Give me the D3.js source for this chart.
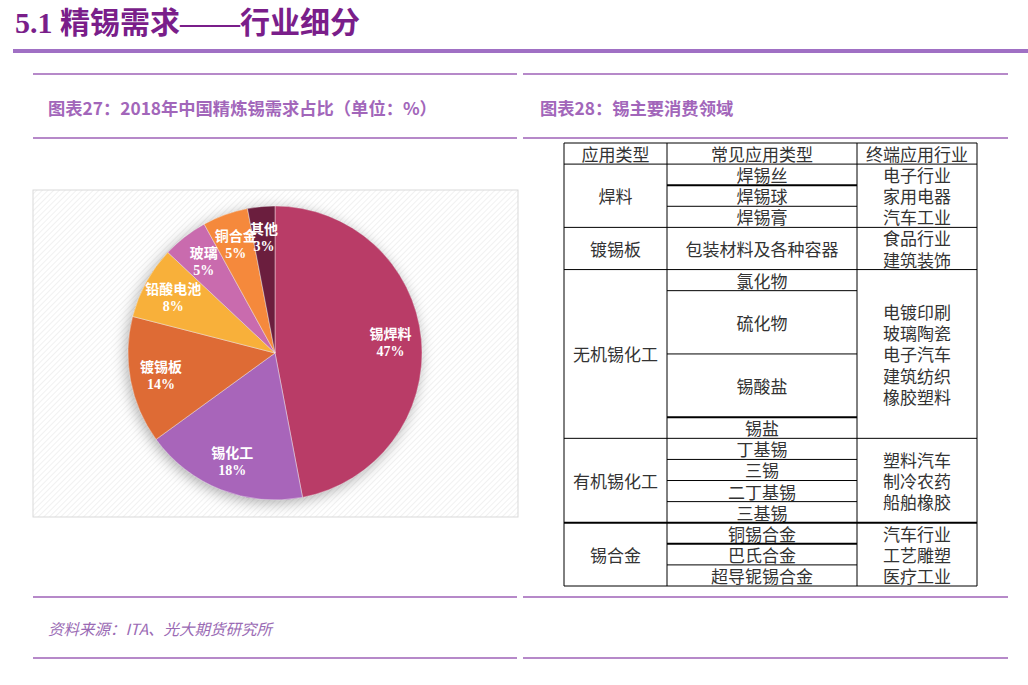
<!DOCTYPE html>
<html><head><meta charset="utf-8">
<script src="https://cdn.jsdelivr.net/npm/d3@7"></script>
<style>
html,body{margin:0;padding:0;background:#fff;}
svg{display:block;}
</style></head>
<body>
<svg id="c" width="1028" height="685"></svg>
<script>
// ---------- data ----------
const pieCategories = ["锡焊料","锡化工","镀锡板","铅酸电池","玻璃","铜合金","其他"];
const pieValues = [47,18,14,8,5,5,3];
const pieColors = ["#B93C67","#A865BA","#DE6B35","#F8B03A","#C96BAE","#F5893C","#6B1E3E"];

const tableHeader = ["应用类型","常见应用类型","终端应用行业"];
const groupNames = ["焊料","镀锡板","无机锡化工","有机锡化工","锡合金"];
const groupItems = [
  ["焊锡丝","焊锡球","焊锡膏"],
  ["包装材料及各种容器"],
  ["氯化物","硫化物","锡酸盐","锡盐"],
  ["丁基锡","三锡","二丁基锡","三基锡"],
  ["铜锡合金","巴氏合金","超导铌锡合金"]
];
const groupItemSpans = [
  [1,1,1],
  [2],
  [1,3,3,1],
  [1,1,1,1],
  [1,1,1]
];
const groupIndustries = [
  ["电子行业","家用电器","汽车工业"],
  ["食品行业","建筑装饰"],
  ["电镀印刷","玻璃陶瓷","电子汽车","建筑纺织","橡胶塑料"],
  ["塑料汽车","制冷农药","船舶橡胶"],
  ["汽车行业","工艺雕塑","医疗工业"]
];

const mainTitle = "5.1 精锡需求——行业细分";
const chart27Title = "图表27：2018年中国精炼锡需求占比（单位：%）";
const chart28Title = "图表28：锡主要消费领域";
const sourceText = "资料来源：ITA、光大期货研究所";

// ---------- drawing ----------
const svg = d3.select("#c");
const defs = svg.append("defs");
const pat = defs.append("pattern").attr("id","hatch").attr("patternUnits","userSpaceOnUse")
  .attr("width",4).attr("height",4).attr("patternTransform","rotate(45)");
pat.append("rect").attr("width",4).attr("height",4).attr("fill","#fff");
pat.append("line").attr("x1",0).attr("y1",0).attr("x2",0).attr("y2",4).attr("stroke","#EDEDED").attr("stroke-width",1.5);
const f = defs.append("filter").attr("id","shadow").attr("x","-30%").attr("y","-30%").attr("width","160%").attr("height","160%");
f.append("feDropShadow").attr("dx",-2).attr("dy",3).attr("stdDeviation",7).attr("flood-color","#000").attr("flood-opacity",0.32);

const serif = "'Liberation Serif','Noto Sans CJK SC',serif";
const cjk = "'Noto Sans CJK SC','Liberation Serif',sans-serif";

// Main title
svg.append("text").attr("x",15).attr("y",33).attr("font-family",serif).attr("font-weight","bold")
  .attr("font-size",30).attr("fill","#7A1E8A").text(mainTitle);
svg.append("rect").attr("x",13).attr("y",49).attr("width",1015).attr("height",4).attr("fill","#A070C4");

// Divider lines
const lineColor = "#B689C9";
[[33,517],[523,1008]].forEach(([x1,x2])=>{
  [74,138,597,658].forEach(y=>{
    svg.append("line").attr("x1",x1).attr("x2",x2).attr("y1",y).attr("y2",y)
      .attr("stroke",lineColor).attr("stroke-width",2);
  });
});

// Chart titles
svg.append("text").attr("x",48).attr("y",115).attr("font-family",cjk).attr("font-weight","bold")
  .attr("font-size",17.3).attr("fill","#A266BA").text(chart27Title);
svg.append("text").attr("x",540).attr("y",115).attr("font-family",cjk).attr("font-weight","bold")
  .attr("font-size",17.3).attr("fill","#A266BA").text(chart28Title);

// Source
svg.append("text").attr("x",48).attr("y",635).attr("font-family",cjk).attr("font-style","italic")
  .attr("font-size",15.5).attr("fill","#9A6AB4").text(sourceText);

// ---------- pie ----------
svg.append("rect").attr("x",33).attr("y",190).attr("width",485).attr("height",327)
  .attr("fill","url(#hatch)").attr("stroke","#D9D9D9").attr("stroke-width",1);

const cx = 275, cy = 353, R = 147;
const pie = d3.pie().sort(null).value(d=>d)(pieValues);
const arc = d3.arc().innerRadius(0).outerRadius(R);
const labelArc = d3.arc().innerRadius(R*0.79).outerRadius(R*0.79);
const g = svg.append("g").attr("transform",`translate(${cx},${cy})`);
g.append("circle").attr("r",R).attr("fill","#888").attr("filter","url(#shadow)");
g.selectAll("path.slice").data(pie).join("path").attr("class","slice")
  .attr("d",arc).attr("fill",(d,i)=>pieColors[i])
  .attr("stroke","rgba(255,255,255,0.5)").attr("stroke-width",0.8);
const lab = g.selectAll("g.lab").data(pie).join("g").attr("class","lab")
  .attr("transform",d=>{const c=labelArc.centroid(d);return `translate(${c[0]},${c[1]})`;});
lab.append("text").attr("text-anchor","middle").attr("y",-3)
  .attr("font-family",cjk).attr("font-weight","bold").attr("font-size",14).attr("fill","#fff")
  .text((d,i)=>pieCategories[i]);
lab.append("text").attr("text-anchor","middle").attr("y",14)
  .attr("font-family",serif).attr("font-weight","bold").attr("font-size",14).attr("fill","#fff")
  .text(d=>d.data+"%");

// ---------- table ----------
const colX = [564,667,857,977];
const totalUnits = 1 + d3.sum(groupItemSpans.map(s=>d3.sum(s)));
const yU = d3.scaleLinear().domain([0,totalUnits]).range([143,586]);
const tg = svg.append("g");
const tFont = 17;
const txtColor = "#333";
function cellText(x, y, t){
  tg.append("text").attr("x",x).attr("y",y).attr("text-anchor","middle").attr("dominant-baseline","central")
    .attr("font-family",cjk).attr("font-size",tFont).attr("fill",txtColor).text(t);
}
function hline(x1,x2,y,w){tg.append("line").attr("x1",x1).attr("x2",x2).attr("y1",y).attr("y2",y).attr("stroke","#000").attr("stroke-width",w||1);}
function vline(x,y1,y2,w){tg.append("line").attr("x1",x).attr("x2",x).attr("y1",y1).attr("y2",y2).attr("stroke","#000").attr("stroke-width",w||1);}

// header
tableHeader.forEach((h,i)=>cellText((colX[i]+colX[i+1])/2,(yU(0)+yU(1))/2,h));
hline(colX[0],colX[3],yU(0));
hline(colX[0],colX[3],yU(1));
let u = 1;
const thick = {"焊锡丝":2,"锡酸盐":2,"三基锡":2,"铜锡合金":2};
groupNames.forEach((name,gi)=>{
  const spans = groupItemSpans[gi];
  const gStart = u, gEnd = u + d3.sum(spans);
  cellText((colX[0]+colX[1])/2,(yU(gStart)+yU(gEnd))/2,name);
  let v = gStart;
  groupItems[gi].forEach((it,ii)=>{
    const a = v, b = v + spans[ii];
    cellText((colX[1]+colX[2])/2,(yU(a)+yU(b))/2,it);
    if(ii < groupItems[gi].length-1) hline(colX[1],colX[2],yU(b),thick[it]||1);
    v = b;
  });
  const ind = groupIndustries[gi];
  const lh = 21.1;
  const mid = (yU(gStart)+yU(gEnd))/2;
  ind.forEach((t,k)=>cellText((colX[2]+colX[3])/2, mid + (k-(ind.length-1)/2)*lh, t));
  hline(colX[0],colX[3],yU(gEnd),gi===3?2:1);
  u = gEnd;
});
colX.forEach((x,i)=>vline(x,yU(0),yU(totalUnits),1));
</script>
</body></html>
